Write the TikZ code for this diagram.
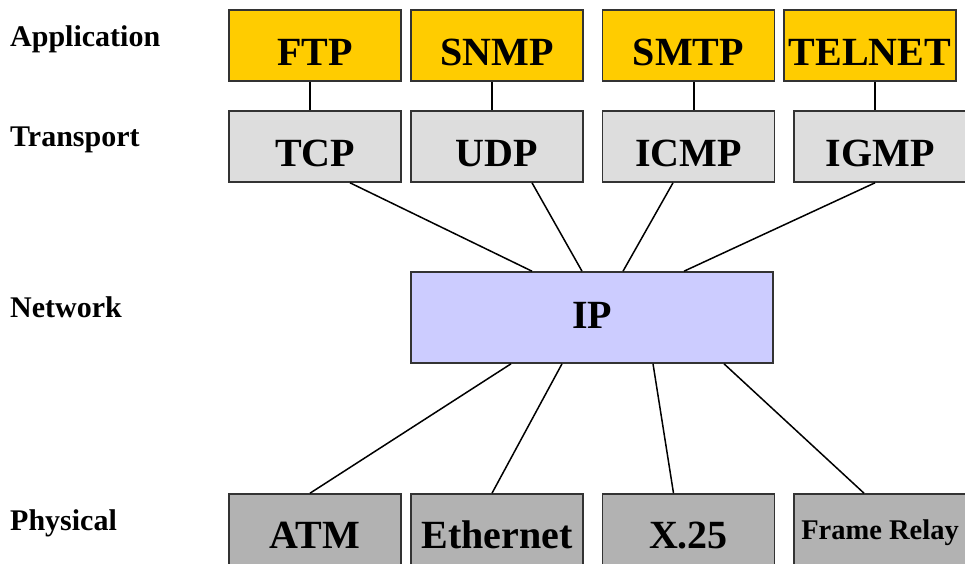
\documentclass[tikz,border=0pt]{standalone}
\usepackage{fontspec}
\setmainfont{Liberation Serif}
\usetikzlibrary{calc}

\definecolor{appyellow}{HTML}{FFCC00}
\definecolor{transgray}{HTML}{DDDDDD}
\definecolor{netblue}{HTML}{CCCCFF}
\definecolor{physgray}{HTML}{B2B2B2}
\definecolor{boxline}{HTML}{333333}

\tikzset{
	layerbox/.style={draw=boxline, line width=1.6pt, inner sep=0pt, align=center,
		font=\fontsize{40}{44}\selectfont\bfseries, minimum width=172pt},
	toprow/.style={layerbox, text height=55pt, text depth=16pt},
	iprow/.style={layerbox, text height=56pt, text depth=35pt, minimum width=362pt},
	botrow/.style={layerbox, fill=physgray, text height=54pt, text depth=28pt},
	layername/.style={anchor=base west, inner sep=0pt, font=\fontsize{30}{34}\selectfont\bfseries},
	wire/.style={line width=1.5pt, black}
}

\begin{document}
\begin{tikzpicture}[x=1pt, y=-1pt]
			%%%%% START %%%%%
			\useasboundingbox (0, 0) rectangle (965, 563);
			
			\node[layername] (lblapp) at (10, 46) {Application};
			\node[layername] (lbltrans) at (10, 146) {Transport};
			\node[layername] (lblnet) at (10, 317) {Network};
			\node[layername] (lblphys) at (10, 530) {Physical};
			
			\node[toprow, fill=appyellow] (ftp) at (315, 45.5) {FTP};
			\node[toprow, fill=appyellow] (snmp) at (497, 45.5) {SNMP};
			\node[toprow, fill=appyellow] (smtp) at (688.5, 45.5) {SMTP};
			\node[toprow, fill=appyellow] (telnet) at (870, 45.5) {TELNET};
			
			\node[toprow, fill=transgray] (tcp) at (315, 146.5) {TCP};
			\node[toprow, fill=transgray] (udp) at (497, 146.5) {UDP};
			\node[toprow, fill=transgray] (icmp) at (688.5, 146.5) {ICMP};
			\node[toprow, fill=transgray] (igmp) at (880, 146.5) {IGMP};
			
			\node[iprow, fill=netblue] (ip) at (592, 317.5) {IP};
			
			\node[botrow] (atm) at (315, 535) {ATM};
			\node[botrow] (eth) at (497, 535) {Ethernet};
			\node[botrow] (xtf) at (688.5, 535) {X.25};
			\node[botrow, font=\fontsize{28.5}{32}\selectfont\bfseries, text height=45pt, text depth=37pt] (frelay) at (880, 535) {Frame Relay};
			
			\draw[wire] ([xshift=-5pt]ftp.south) -- ([xshift=-5pt]tcp.north);
			\draw[wire] ([xshift=-5pt]snmp.south) -- ([xshift=-5pt]udp.north);
			\draw[wire] ([xshift=5.5pt]smtp.south) -- ([xshift=5.5pt]icmp.north);
			\draw[wire] ([xshift=5pt]telnet.south) -- ([xshift=-5pt]igmp.north);
			
			\draw[wire] ([xshift=35pt]tcp.south) -- ([xshift=-60pt]ip.north);
			\draw[wire] ([xshift=35pt]udp.south) -- ([xshift=-10pt]ip.north);
			\draw[wire] ([xshift=-15.5pt]icmp.south) -- ([xshift=31pt]ip.north);
			\draw[wire] ([xshift=-5pt]igmp.south) -- ([xshift=92pt]ip.north);
			
			\draw[wire] ([xshift=-81pt]ip.south) -- ([xshift=-5pt]atm.north);
			\draw[wire] ([xshift=-30pt]ip.south) -- ([xshift=-5pt]eth.north);
			\draw[wire] ([xshift=61pt]ip.south) -- ([xshift=-15pt]xtf.north);
			\draw[wire] ([xshift=132pt]ip.south) -- ([xshift=-16pt]frelay.north);
			%%%%% END %%%%%
\end{tikzpicture}
\end{document}
